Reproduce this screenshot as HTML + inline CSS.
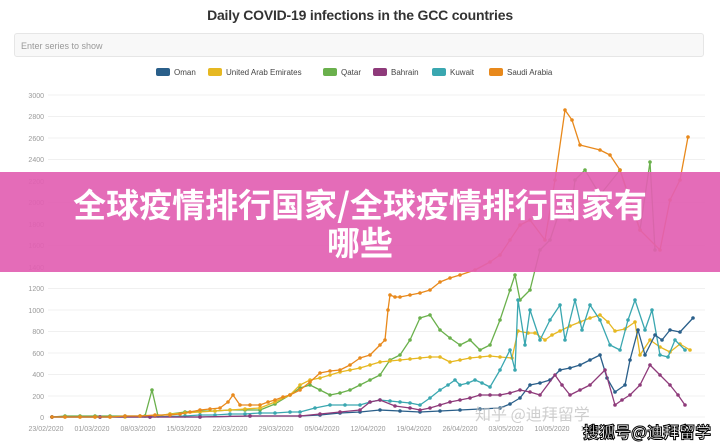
<!DOCTYPE html>
<html><head><meta charset="utf-8"><style>
body{margin:0;width:720px;height:445px;background:#fff;overflow:hidden;font-family:"Liberation Sans","Noto Sans CJK SC",sans-serif;position:relative}
.t{position:absolute;top:7px;width:720px;text-align:center;font-weight:bold;font-size:14px;color:#333;letter-spacing:-0.2px}
.s{position:absolute;left:14px;top:33px;width:690px;height:24px;background:#f8f8f8;border:1px solid #e6e6e6;border-radius:3px;font-size:9px;color:#999;line-height:24px;padding-left:6px;box-sizing:border-box}
.b{position:absolute;left:0;top:172px;width:720px;height:100px;background:rgba(226,95,178,0.92);color:#fff;font-weight:bold;font-size:33px;text-align:center;line-height:38px;padding-top:12px;box-sizing:border-box;font-family:"Noto Sans CJK SC",sans-serif}
.w{position:absolute;left:583px;top:419px;font-size:16px;font-weight:bold;color:#fff;-webkit-text-stroke:1px #000;font-family:"Noto Sans CJK SC",sans-serif}
</style></head><body>
<div class="t">Daily COVID-19 infections in the GCC countries</div>
<div class="s">Enter series to show</div>
<svg width="720" height="445" style="position:absolute;left:0;top:0" font-family="Liberation Sans,sans-serif">
<defs>
<marker id="m1" markerWidth="4" markerHeight="4" refX="2" refY="2" markerUnits="userSpaceOnUse"><circle cx="2" cy="2" r="1.8" fill="#6ab04c"/></marker>
<marker id="m2" markerWidth="4" markerHeight="4" refX="2" refY="2" markerUnits="userSpaceOnUse"><circle cx="2" cy="2" r="1.8" fill="#e6b822"/></marker>
<marker id="m3" markerWidth="4" markerHeight="4" refX="2" refY="2" markerUnits="userSpaceOnUse"><circle cx="2" cy="2" r="1.8" fill="#3aa7b0"/></marker>
<marker id="m4" markerWidth="4" markerHeight="4" refX="2" refY="2" markerUnits="userSpaceOnUse"><circle cx="2" cy="2" r="1.8" fill="#2a5f8a"/></marker>
<marker id="m5" markerWidth="4" markerHeight="4" refX="2" refY="2" markerUnits="userSpaceOnUse"><circle cx="2" cy="2" r="1.8" fill="#8e3a7a"/></marker>
<marker id="m6" markerWidth="4" markerHeight="4" refX="2" refY="2" markerUnits="userSpaceOnUse"><circle cx="2" cy="2" r="1.8" fill="#e8891c"/></marker>
</defs>
<g font-size="8" fill="#444">
<rect x="156" y="68" width="14" height="8" rx="2" fill="#2a5f8a"/><text x="174" y="75">Oman</text>
<rect x="208" y="68" width="14" height="8" rx="2" fill="#e6b822"/><text x="226" y="75">United Arab Emirates</text>
<rect x="323" y="68" width="14" height="8" rx="2" fill="#6ab04c"/><text x="341" y="75">Qatar</text>
<rect x="373" y="68" width="14" height="8" rx="2" fill="#8e3a7a"/><text x="391" y="75">Bahrain</text>
<rect x="432" y="68" width="14" height="8" rx="2" fill="#3aa7b0"/><text x="450" y="75">Kuwait</text>
<rect x="489" y="68" width="14" height="8" rx="2" fill="#e8891c"/><text x="507" y="75">Saudi Arabia</text>
</g>
<g stroke="#f0f0f0" stroke-width="1">
<line x1="48" x2="705" y1="95" y2="95"/><line x1="48" x2="705" y1="116.5" y2="116.5"/><line x1="48" x2="705" y1="138" y2="138"/><line x1="48" x2="705" y1="159.5" y2="159.5"/><line x1="48" x2="705" y1="181" y2="181"/><line x1="48" x2="705" y1="202.5" y2="202.5"/><line x1="48" x2="705" y1="224" y2="224"/><line x1="48" x2="705" y1="245.5" y2="245.5"/><line x1="48" x2="705" y1="267" y2="267"/><line x1="48" x2="705" y1="288.5" y2="288.5"/><line x1="48" x2="705" y1="310" y2="310"/><line x1="48" x2="705" y1="331.5" y2="331.5"/><line x1="48" x2="705" y1="353" y2="353"/><line x1="48" x2="705" y1="374.5" y2="374.5"/><line x1="48" x2="705" y1="396" y2="396"/><line x1="48" x2="705" y1="417" y2="417"/>
</g>
<g font-size="7" fill="#999" text-anchor="end">
<text x="44" y="98">3000</text><text x="44" y="119">2800</text><text x="44" y="141">2600</text><text x="44" y="162">2400</text><text x="44" y="184">2200</text><text x="44" y="205">2000</text><text x="44" y="227">1800</text><text x="44" y="248">1600</text><text x="44" y="270">1400</text><text x="44" y="291">1200</text><text x="44" y="313">1000</text><text x="44" y="334">800</text><text x="44" y="356">600</text><text x="44" y="377">400</text><text x="44" y="399">200</text><text x="44" y="420">0</text>
</g>
<g font-size="7" fill="#999" text-anchor="middle">
<text x="46" y="431">23/02/2020</text><text x="92" y="431">01/03/2020</text><text x="138" y="431">08/03/2020</text><text x="184" y="431">15/03/2020</text><text x="230" y="431">22/03/2020</text><text x="276" y="431">29/03/2020</text><text x="322" y="431">05/04/2020</text><text x="368" y="431">12/04/2020</text><text x="414" y="431">19/04/2020</text><text x="460" y="431">26/04/2020</text><text x="506" y="431">03/05/2020</text><text x="552" y="431">10/05/2020</text><text x="598" y="431">17/05/2020</text>
</g>
<g fill="none" stroke-width="1.3" stroke-linejoin="round">
<polyline stroke="#6ab04c" marker-start="url(#m1)" marker-mid="url(#m1)" marker-end="url(#m1)" points="52,417 65,416 80,416 95,416 110,416 125,416 140,416 145,416 152,390 158,416 170,414 185,412 200,411 215,411 230,410 245,410 260,410 275,404 290,395 300,388 310,385 320,390 330,395 340,393 350,390 360,385 370,380 380,375 390,360 400,355 410,340 420,318 430,315 440,330 450,338 460,345 470,340 480,350 490,345 500,320 510,290 515,275 520,300 530,290 540,250 550,240 560,210 565,200 570,220 575,180 585,170 600,195 620,170 640,230 650,162 655,250"/>
<polyline stroke="#e6b822" marker-start="url(#m2)" marker-mid="url(#m2)" marker-end="url(#m2)" points="52,417 65,417 80,417 95,417 110,417 125,417 140,416 155,416 170,414 185,413 200,412 215,411 230,410 245,409 260,408 275,402 290,395 300,385 310,380 320,378 330,375 340,372 350,370 360,368 370,365 380,362 390,361 400,360 410,359 420,358 430,357 440,357 450,362 460,360 470,358 480,357 490,356 500,357 512,358 518,331 528,333 535,333 545,340 552,335 560,331 570,326 580,322 590,318 600,315 608,322 615,331 625,329 635,322 640,355 650,340 660,347 670,352 680,344 690,350"/>
<polyline stroke="#3aa7b0" marker-start="url(#m3)" marker-mid="url(#m3)" marker-end="url(#m3)" points="52,417 100,417 150,417 185,416 200,415 215,415 230,414 245,414 260,413 275,413 290,412 300,412 315,408 330,405 345,405 360,405 370,402 380,400 390,401 400,402 410,403 420,405 430,398 440,390 448,385 455,380 460,385 468,383 475,380 482,383 490,387 500,370 510,350 515,370 518,300 525,345 530,310 540,340 550,320 560,305 565,340 575,300 582,330 590,305 600,320 610,345 620,350 628,320 635,300 645,330 652,310 660,355 668,357 675,340 685,350"/>
<polyline stroke="#2a5f8a" marker-start="url(#m4)" marker-mid="url(#m4)" marker-end="url(#m4)" points="52,417 100,417 150,417 200,417 250,416 300,416 320,415 340,413 360,412 380,410 400,411 420,412 440,411 460,410 480,409 500,408 510,404 520,398 530,385 540,383 550,380 560,370 570,368 580,365 590,360 600,355 607,378 615,392 625,385 630,360 638,330 645,355 655,335 662,340 670,330 680,332 693,318"/>
<polyline stroke="#8e3a7a" marker-start="url(#m5)" marker-mid="url(#m5)" marker-end="url(#m5)" points="52,417 100,417 150,417 200,417 250,416 300,416 320,414 340,412 360,410 370,402 380,400 395,406 410,408 420,410 430,408 440,405 450,402 460,400 470,398 480,395 490,395 500,395 510,393 520,390 530,392 540,395 555,375 562,385 570,395 580,390 590,385 605,370 615,405 622,400 630,395 640,385 650,365 660,375 670,385 678,395 685,405"/>
<polyline stroke="#e8891c" marker-start="url(#m6)" marker-mid="url(#m6)" marker-end="url(#m6)" points="52,417 65,417 80,417 95,417 110,417 125,416 140,416 155,415 170,415 180,414 190,412 200,410 210,409 220,408 228,402 233,395 240,405 250,405 260,405 268,402 275,400 283,397 290,395 300,390 310,382 320,373 330,371 340,370 350,365 360,358 370,355 380,345 385,340 388,310 390,295 395,297 400,297 410,295 420,293 430,290 440,282 450,278 460,275 475,270 490,262 500,255 510,240 520,225 530,220 545,240 555,180 565,110 572,120 580,145 600,150 610,155 620,170 640,230 660,250 670,200 680,180 688,137"/>
</g>
<text x="475" y="420" font-size="16" fill="#bbb" font-family="Noto Sans CJK SC,sans-serif" opacity="0.7">知乎 @迪拜留学</text>
</svg>
<div class="b">全球疫情排行国家/全球疫情排行国家有<br>哪些</div>
<div class="w">搜狐号@迪拜留学</div>
</body></html>
